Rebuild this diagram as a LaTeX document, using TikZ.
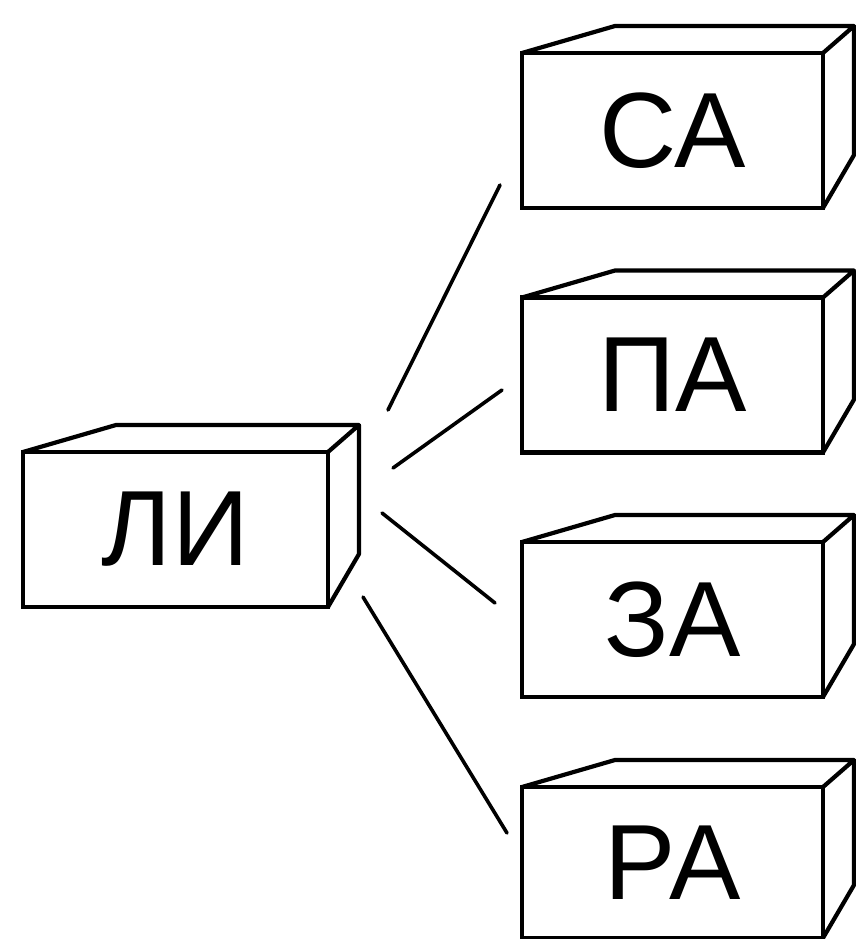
\documentclass[tikz,border=0pt]{standalone}
\usepackage{fontspec}
\setmainfont{Liberation Sans}
\usetikzlibrary{calc}

\tikzset{
  brick/.style={draw,line width=4.2pt,minimum width=301pt,minimum height=155pt,
    inner sep=0pt,outer sep=0pt,font=\fontsize{107}{107}\selectfont},
  brick edge/.style={line width=4.2pt,line join=round},
  link/.style={line width=3.6pt,line cap=round}
}

% #1 node options, #2 name, #3 centre, #4 text
\newcommand{\Brick}[4][]{%
  \node[brick,#1] (#2) at (#3) {#4};
  \draw[brick edge] (#2.north west) -- ($(#2.north west)+(93,-27)$)
    -- ($(#2.north east)+(31,-27)$) -- (#2.north east);
  \draw[brick edge] ($(#2.north east)+(31,-27)$) -- ($(#2.south east)+(31,-53)$)
    -- (#2.south east);
}

\begin{document}
\begin{tikzpicture}[x=1pt,y=-1pt]
\useasboundingbox (0,0) rectangle (855,939);

\Brick[minimum width=305pt]{li}{175.5,529.5}{ЛИ}
\Brick{ca}{672.5,130.5}{СА}
\Brick{pa}{672.5,375}{ПА}
\Brick{za}{672.5,619.5}{ЗА}
\Brick[minimum height=151pt]{ra}{672.5,862.5}{РА}

\coordinate (li-a) at (388,410);
\coordinate (li-b) at (393,468);
\coordinate (li-c) at (382,513);
\coordinate (li-d) at (363,597);
\coordinate (ca-in) at (500,185);
\coordinate (pa-in) at (502,390);
\coordinate (za-in) at (495,603);
\coordinate (ra-in) at (507,833);

\draw[link] (li-a) -- (ca-in);
\draw[link] (li-b) -- (pa-in);
\draw[link] (li-c) -- (za-in);
\draw[link] (li-d) -- (ra-in);

\end{tikzpicture}
\end{document}
